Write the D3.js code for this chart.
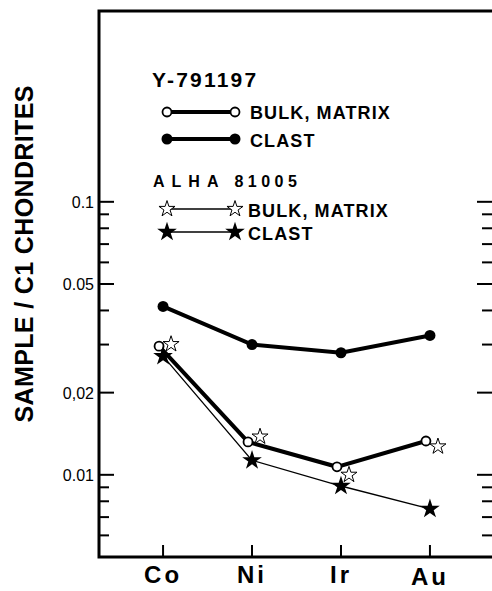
<!DOCTYPE html>
<html>
<head>
<meta charset="utf-8">
<script src="https://cdn.jsdelivr.net/npm/d3@7"></script>
<style>
  body { margin: 0; background: #fff; }
  text { font-family: "Liberation Sans", Arial, sans-serif; fill: #000; }
</style>
</head>
<body>
<svg width="492" height="591"></svg>
<script>
// element ratios (sample / C1 chondrites)
var elements = ["Co", "Ni", "Ir", "Au"];
var yBulk = [0.0296, 0.0132, 0.0107, 0.0133];     // Y-791197 bulk, matrix
var yClast = [0.0414, 0.0300, 0.0280, 0.0324];    // Y-791197 clast
var aBulk = [0.0301, 0.0138, 0.0100, 0.0127];     // ALHA 81005 bulk, matrix
var aClast = [0.0272, 0.0113, 0.0091, 0.0075];    // ALHA 81005 clast
var majorTicks = [0.1, 0.05, 0.02, 0.01];
var majorLabels = ["0.1", "0.05", "0,02", "0.01"];
var minorTicks = [0.09, 0.08, 0.07, 0.06, 0.04, 0.03, 0.009, 0.008, 0.007, 0.006];

var svg = d3.select("svg"),
  plotLeft = 99,
  plotRight = 494,
  plotTop = 11,
  plotBottom = 557;

var x = d3.scalePoint().domain(elements).range([plotLeft, plotRight]).padding(0.72),
  y = d3.scaleLog().domain([0.005, 0.5]).range([plotBottom, plotTop]);

// frame
svg.append("path")
  .attr("d", "M" + plotLeft + "," + plotTop + "H" + plotRight +
    "M" + plotLeft + "," + (plotTop - 1.5) + "V" + plotBottom + "H" + plotRight)
  .attr("fill", "none")
  .attr("stroke", "#000")
  .attr("stroke-width", 3);

// y ticks, both sides, pointing inward
function ticks(vals, len) {
  svg.append("g").selectAll("line").data(vals).enter().append("line")
    .attr("x1", plotLeft).attr("x2", plotLeft + len)
    .attr("y1", function (d) { return y(d); })
    .attr("y2", function (d) { return y(d); })
    .attr("stroke", "#000").attr("stroke-width", 2);
  svg.append("g").selectAll("line").data(vals).enter().append("line")
    .attr("x1", plotRight - len - 2).attr("x2", plotRight)
    .attr("y1", function (d) { return y(d); })
    .attr("y2", function (d) { return y(d); })
    .attr("stroke", "#000").attr("stroke-width", 2);
}
ticks(majorTicks, 15);
ticks(minorTicks, 10);

svg.append("g").selectAll("text").data(majorTicks).enter().append("text")
  .attr("x", 94)
  .attr("y", function (d) { return y(d) + 6; })
  .attr("text-anchor", "end")
  .attr("font-size", 16)
  .text(function (d, i) { return majorLabels[i]; });

// x ticks and labels
svg.append("g").selectAll("line").data(elements).enter().append("line")
  .attr("x1", function (d) { return x(d); })
  .attr("x2", function (d) { return x(d); })
  .attr("y1", plotBottom).attr("y2", plotBottom - 12)
  .attr("stroke", "#000").attr("stroke-width", 2);

svg.append("g").selectAll("text").data(elements).enter().append("text")
  .attr("x", function (d) { return x(d); })
  .attr("y", function (d) { return d == "Au" ? 585 : 583; })
  .attr("text-anchor", "middle")
  .attr("font-size", 24)
  .attr("font-weight", "bold")
  .attr("letter-spacing", 3)
  .text(function (d) { return d; });

// y axis title
svg.append("text")
  .attr("transform", "translate(33,254) rotate(-90)")
  .attr("text-anchor", "middle")
  .attr("font-size", 25)
  .attr("font-weight", "bold")
  .attr("textLength", 337)
  .text("SAMPLE / C1 CHONDRITES");

// series
function line(dx) {
  return d3.line()
    .x(function (d, i) { return x(elements[i]) + dx; })
    .y(function (d) { return y(d); });
}
var star = d3.symbol().type(d3.symbolStar);

svg.append("path").datum(aClast).attr("d", line(0))
  .attr("fill", "none").attr("stroke", "#000").attr("stroke-width", 1.3);
svg.append("path").datum(yBulk).attr("d", line(-4))
  .attr("fill", "none").attr("stroke", "#000").attr("stroke-width", 4);
svg.append("path").datum(yClast).attr("d", line(0))
  .attr("fill", "none").attr("stroke", "#000").attr("stroke-width", 4);

svg.append("g").selectAll("circle").data(yClast).enter().append("circle")
  .attr("cx", function (d, i) { return x(elements[i]); })
  .attr("cy", function (d) { return y(d); })
  .attr("r", 5.5).attr("fill", "#000");

svg.append("g").selectAll("circle").data(yBulk).enter().append("circle")
  .attr("cx", function (d, i) { return x(elements[i]) - 4; })
  .attr("cy", function (d) { return y(d); })
  .attr("r", 4.5).attr("fill", "#fff").attr("stroke", "#000").attr("stroke-width", 1.8);

svg.append("g").selectAll("path").data(aBulk).enter().append("path")
  .attr("d", star.size(80))
  .attr("transform", function (d, i) { return "translate(" + (x(elements[i]) + 8) + "," + y(d) + ")"; })
  .attr("fill", "#fff").attr("stroke", "#000").attr("stroke-width", 1);

svg.append("g").selectAll("path").data(aClast).enter().append("path")
  .attr("d", star.size(120))
  .attr("transform", function (d, i) { return "translate(" + x(elements[i]) + "," + y(d) + ")"; })
  .attr("fill", "#000");

// legend
svg.append("text").attr("x", 152).attr("y", 87)
  .attr("font-size", 21).attr("font-weight", "bold").attr("letter-spacing", 2.2)
  .text("Y-791197");

function legendRow(yy, width, marker) {
  svg.append("line").attr("x1", 167).attr("x2", 235).attr("y1", yy).attr("y2", yy)
    .attr("stroke", "#000").attr("stroke-width", width);
  [167, 235].forEach(function (xx) { marker(xx, yy); });
}
legendRow(112, 4, function (xx, yy) {
  svg.append("circle").attr("cx", xx).attr("cy", yy).attr("r", 4.5)
    .attr("fill", "#fff").attr("stroke", "#000").attr("stroke-width", 1.8);
});
legendRow(139, 4, function (xx, yy) {
  svg.append("circle").attr("cx", xx).attr("cy", yy).attr("r", 5.5).attr("fill", "#000");
});
legendRow(209, 1.3, function (xx, yy) {
  svg.append("path").attr("d", star.size(80)).attr("transform", "translate(" + xx + "," + yy + ")")
    .attr("fill", "#fff").attr("stroke", "#000").attr("stroke-width", 1);
});
legendRow(232, 1.3, function (xx, yy) {
  svg.append("path").attr("d", star.size(120)).attr("transform", "translate(" + xx + "," + yy + ")")
    .attr("fill", "#000");
});

var legendText = [["BULK, MATRIX", 250, 119], ["CLAST", 250, 147], ["BULK, MATRIX", 248, 217], ["CLAST", 248, 240]];
svg.append("g").selectAll("text").data(legendText).enter().append("text")
  .attr("x", function (d) { return d[1]; })
  .attr("y", function (d) { return d[2]; })
  .attr("font-size", 18).attr("font-weight", "bold").attr("letter-spacing", 1.1)
  .text(function (d) { return d[0]; });

var alha = svg.append("text").attr("x", 153).attr("y", 187)
  .attr("font-size", 16).attr("font-weight", "bold");
alha.append("tspan").attr("letter-spacing", 7).text("ALHA");
alha.append("tspan").attr("letter-spacing", 4.5).text(" 81005");
</script>
</body>
</html>
